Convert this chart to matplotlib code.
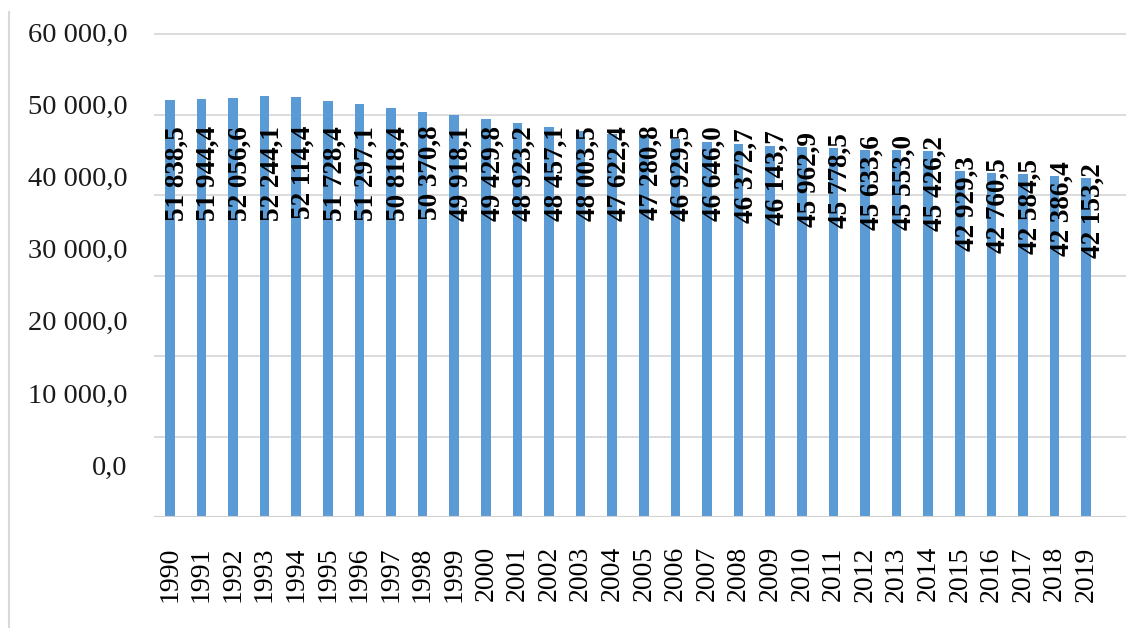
import numpy as np
import matplotlib.pyplot as plt
from matplotlib.lines import Line2D

years = [str(y) for y in range(1990, 2020)]
values = [51838.5, 51944.4, 52056.6, 52244.1, 52114.4, 51728.4, 51297.1, 50818.4,
          50370.8, 49918.1, 49429.8, 48923.2, 48457.1, 48003.5, 47622.4, 47280.8,
          46929.5, 46646.0, 46372.7, 46143.7, 45962.9, 45778.5, 45633.6, 45553.0,
          45426.2, 42929.3, 42760.5, 42584.5, 42386.4, 42153.2]
ytick_values = [0, 10000, 20000, 30000, 40000, 50000, 60000]


def fmt(v, dec=1):
    s = f"{v:,.{dec}f}"
    return s.replace(",", " ").replace(".", ",")


plt.rcParams['font.family'] = ['Liberation Serif', 'DejaVu Serif']

fig = plt.figure(figsize=(11.26, 6.28), dpi=100)
ax = fig.add_axes([154 / 1126, 111 / 628, 972 / 1126, 485 / 628])

x = np.arange(len(years))
bar_w = 0.3
ax.bar(x, values, width=bar_w, color='#5b9bd5', zorder=2)

# gridlines
for g in ytick_values[1:]:
    ax.axhline(g, color='#d9d9d9', lw=1.3, zorder=1)
ax.axhline(0, color='#d0d0d0', lw=1.5, zorder=3)

ax.set_ylim(0, 60000)
ax.set_xlim(-0.5, len(years) + 0.26)

# y labels sit a bit off the gridlines in the original
label_pos = np.linspace(6430, 60250, len(ytick_values))
ax.set_yticks(label_pos, [fmt(v) for v in ytick_values])
ax.tick_params(axis='y', length=0, pad=19, labelsize=20.5, labelcolor='#1a1a1a')

ax.set_xticks(x, years, rotation=90)
ax.tick_params(axis='x', length=0, pad=21, labelsize=20)
for lab in ax.get_xticklabels():
    lab.set_va('top')

for s in ax.spines.values():
    s.set_visible(False)

# data labels
for xi, v in zip(x, values):
    ax.text(xi - bar_w / 2 - 0.02, min(v + 1850, 48600), fmt(v), rotation=90,
            ha='left', va='top', fontsize=19.5, fontweight='bold', zorder=4)

fig.add_artist(Line2D([9 / 1126, 9 / 1126], [0, 1 - 12 / 628], color='#d9d9d9', lw=1.5))

fig.savefig('out.png', dpi=100)
